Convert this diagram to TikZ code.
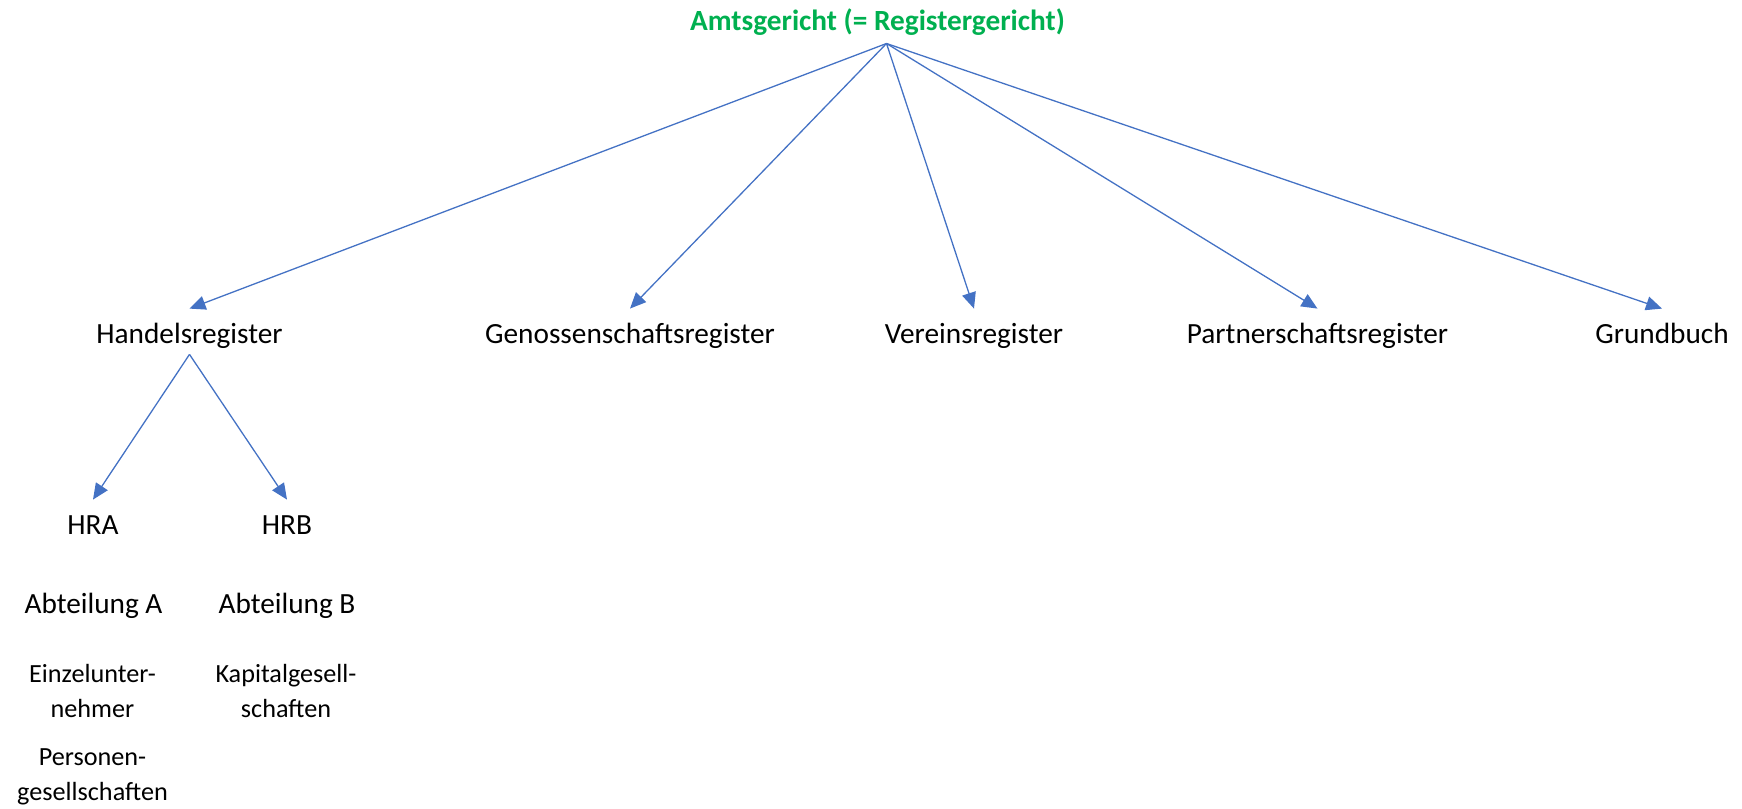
\documentclass[tikz,border=0pt]{standalone}
\usepackage{fontspec}
\setmainfont{Carlito}
\usetikzlibrary{arrows.meta}
\definecolor{amtgruen}{RGB}{0,176,80}
\definecolor{linienblau}{RGB}{68,114,196}

\tikzset{
  pfeil/.style={draw=linienblau, line width=0.65pt, -{Triangle[length=8pt,width=7pt]}},
  register/.style={anchor=base, font=\fontsize{14.65}{17}\selectfont, text height=14.5pt, text depth=3pt, inner xsep=1pt, inner ysep=2.5pt},
  klein/.style={anchor=base, font=\fontsize{13.1}{17.5}\selectfont, align=center, inner sep=0pt}
}

\begin{document}
\begin{tikzpicture}[x=0.5pt, y=-0.5pt] % 1 Einheit = 1 Pixel der Vorlage

\useasboundingbox (0,0) rectangle (1742,809);

% Gericht
\node[anchor=base, text=amtgruen, font=\fontsize{14.65}{17}\selectfont\bfseries] (amt) at (877.5,30) {Amtsgericht (= Registergericht)};
\coordinate (wurzel) at (886.5,43.5); % Ausgangspunkt der Pfeile

% Register
\foreach \name/\x/\titel in {hr/189.5/Handelsregister, gr/630/Genossenschaftsregister, vr/974/Vereinsregister, pr/1317.5/Partnerschaftsregister, gb/1662/Grundbuch} {
  \node[register] (\name) at (\x,343) {\titel};
  \draw[pfeil] (wurzel) -- (\name.north);
}

% Abteilungen des Handelsregisters
\node[register] (hra) at (93,534) {HRA};
\node[register] (hrb) at (287,534) {HRB};
\draw[pfeil] (hr.south) -- (hra.north);
\draw[pfeil] (hr.south) -- (hrb.north);

\node[register] (abta) at (93.5,613) {Abteilung A};
\node[register] (abtb) at (287,613) {Abteilung B};

% Eingetragene Rechtsformen (Ankerpunkt = letzte Zeile)
\node[klein] (einzel) at (92.5,717) {Einzelunter-\\nehmer};
\node[klein] (person) at (92.5,800) {Personen-\\gesellschaften};
\node[klein] (kapital) at (286,717) {Kapitalgesell-\\schaften};

\end{tikzpicture}
\end{document}
